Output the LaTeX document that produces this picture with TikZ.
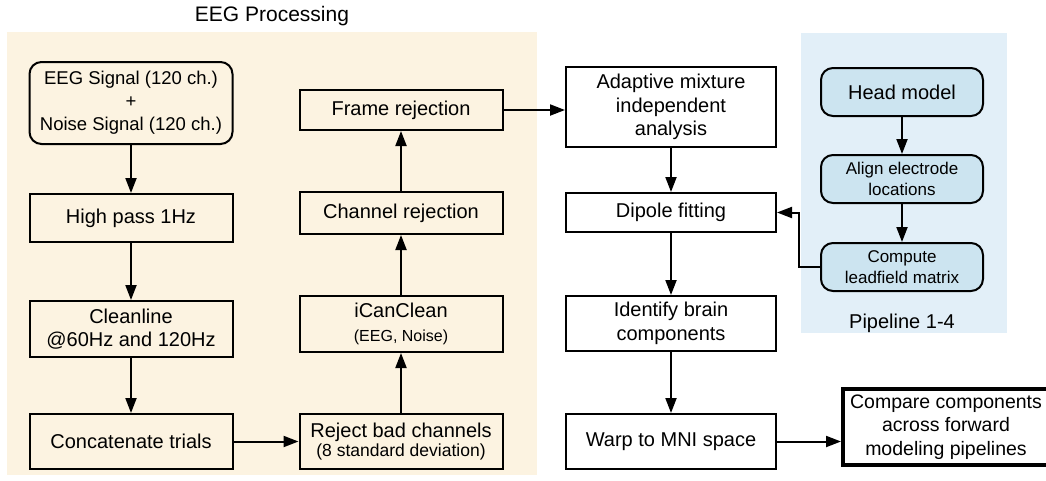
\documentclass[tikz,border=0pt]{standalone}
\usepackage{fontspec}
\setmainfont{Liberation Sans}
\usetikzlibrary{arrows.meta,positioning}
\definecolor{eegbg}{HTML}{FCF3E1}
\definecolor{pipebg}{HTML}{E2EFF8}
\definecolor{pipefill}{HTML}{CCE4F0}
\newcommand{\sm}{\fontsize{16}{19}\selectfont}

\begin{document}
\begin{tikzpicture}[x=1pt,y=-1pt,node distance=48pt]
  \tikzstyle{n}=[draw,line width=2pt,align=center,minimum width=203pt,inner sep=2pt,font=\fontsize{20}{23.5}\selectfont]
  \tikzstyle{bl}=[n,rounded corners=12pt,fill=pipefill,minimum width=162pt,minimum height=48pt,font=\fontsize{17}{21}\selectfont]
  \tikzstyle{arr}=[-{Triangle[length=15pt,width=11pt]},line width=2pt]
  \useasboundingbox (0,0) rectangle (1046,480);
  % backgrounds
  \fill[eegbg] (7,32) rectangle (537,475);
  \fill[pipebg] (801,33) rectangle (1007,333);
  \node[font=\fontsize{21}{25}\selectfont] (title) at (272,16) {EEG Processing};

  % EEG processing, left column
  \node[n,rounded corners=12pt,minimum height=82pt,font=\fontsize{18.5}{23}\selectfont] (sig) at (131,103) {EEG Signal (120 ch.)\\+\\Noise Signal (120 ch.)};
  \node[n,minimum height=48pt,below=48pt of sig] (hp) {High pass 1Hz};
  \node[n,minimum height=56pt,below=57pt of hp] (cl) {Cleanline\\@60Hz and 120Hz};
  \node[n,minimum height=55pt,below=55pt of cl] (cat) {Concatenate trials};

  % EEG processing, right column
  \node[n,minimum height=55pt,right=65pt of cat] (rbc) {Reject bad channels\\[-4pt]{\fontsize{17.5}{20}\selectfont (8 standard deviation)}};
  \node[n,minimum height=56pt,above=60pt of rbc] (icc) {iCanClean\\{\sm (EEG, Noise)}};
  \node[n,minimum height=42pt,above=60pt of icc] (chr) {Channel rejection};
  \node[n,minimum height=40pt,above=60pt of chr] (frr) {Frame rejection};

  % source analysis
  \node[n,minimum width=210pt,minimum height=80pt] (amica) at (671,107) {Adaptive mixture\\independent\\analysis};
  \node[n,minimum width=210pt,minimum height=39pt,below=44pt of amica] (dip) {Dipole fitting};
  \node[n,minimum width=210pt,minimum height=55pt,below=62pt of dip] (brain) {Identify brain\\components};
  \node[n,minimum width=210pt,minimum height=55pt,below=61pt of brain] (mni) {Warp to MNI space};
  \node[n,line width=4pt,minimum width=206pt,minimum height=76pt,font=\fontsize{19.5}{23.5}\selectfont] (cmp) at (946,427) {Compare components\\across forward\\modeling pipelines};

  % pipeline 1-4
  \node[bl,font=\fontsize{20}{24}\selectfont] (head) at (902,92) {Head model};
  \node[bl,below=37pt of head] (elec) {Align electrode\\locations};
  \node[bl,below=38pt of elec] (lead) {Compute\\leadfield matrix};
  \node[font=\fontsize{20}{24}\selectfont,below=18pt of lead] (pipe) {Pipeline 1-4};

  \draw[arr] (sig) -- (hp);
  \draw[arr] (hp) -- (cl);
  \draw[arr] (cl) -- (cat);
  \draw[arr] (cat) -- (rbc);
  \draw[arr] (rbc) -- (icc);
  \draw[arr] (icc) -- (chr);
  \draw[arr] (chr) -- (frr);
  \draw[arr] (frr.east) -- (frr.east -| amica.west);
  \draw[arr] (amica) -- (dip);
  \draw[arr] (dip) -- (brain);
  \draw[arr] (brain) -- (mni);
  \draw[arr] (mni.east) -- (mni.east -| cmp.west);
  \draw[arr] (head) -- (elec);
  \draw[arr] (elec) -- (lead);
  \draw[arr] (lead.west) -- ++(-21,0) |- (dip.east);
\end{tikzpicture}
\end{document}
